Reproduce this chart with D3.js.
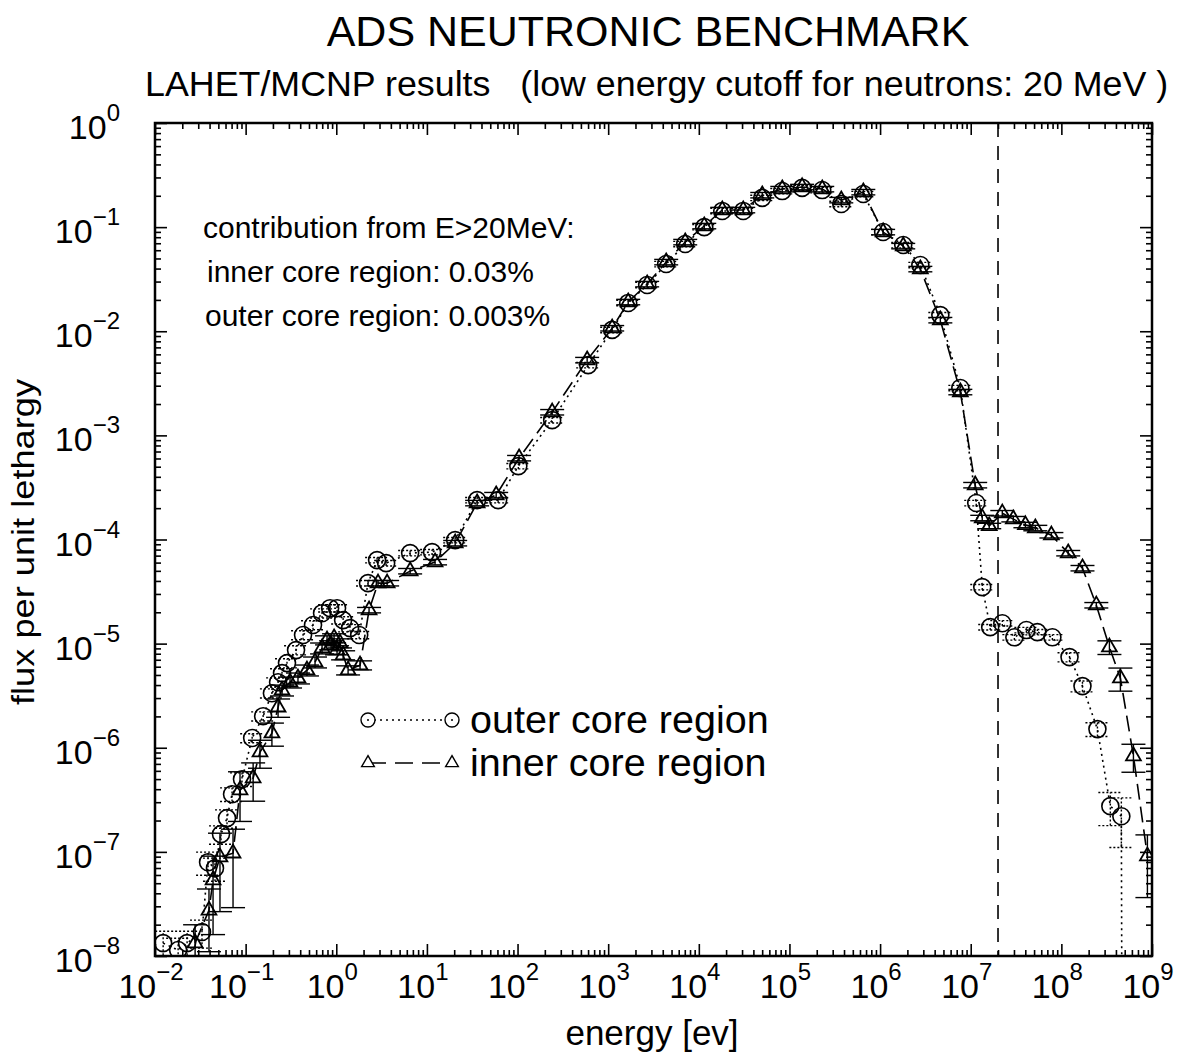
<!DOCTYPE html>
<html>
<head>
<meta charset="utf-8">
<script src="https://cdn.jsdelivr.net/npm/d3@7"></script>
<style>
  body { margin: 0; background: #fff; }
  svg text { font-family: "Liberation Sans", Arial, Helvetica, sans-serif; fill: #000; }
</style>
</head>
<body>
<svg id="chart" width="1179" height="1057"></svg>
<script>
// outer core region (circles, dotted)
const outerEnergy = [0.0123, 0.018, 0.0226, 0.033, 0.0385, 0.0459, 0.0535, 0.0623, 0.0708, 0.0912,
  0.118, 0.156, 0.195, 0.228, 0.252, 0.286, 0.36, 0.43, 0.554, 0.697,
  0.855, 1.02, 1.19, 1.42, 1.79, 2.24, 2.82, 3.55, 6.53, 11.4,
  20.5, 35.8, 61.1, 102, 241, 601, 1107, 1663, 2692, 4365,
  7079, 11480, 18140, 30900, 50100, 83300, 1.38e5, 2.30e5, 3.73e5, 6.53e5,
  1.08e6, 1.80e6, 2.78e6, 4.62e6, 7.68e6, 1.15e7, 1.34e7, 1.64e7, 2.23e7, 3.03e7,
  4.11e7, 5.43e7, 7.96e7, 1.23e8, 1.71e8, 2.50e8, 3.47e8, 4.59e8, 4.7e8];
const outerFlux = [1.33e-8, 1.14e-8, 1.33e-8, 1.70e-8, 7.96e-8, 6.97e-8, 1.48e-7, 2.11e-7, 3.58e-7, 4.99e-7,
  1.24e-6, 2.01e-6, 3.34e-6, 4.26e-6, 5.21e-6, 6.50e-6, 8.67e-6, 1.21e-5, 1.51e-5, 1.96e-5,
  2.19e-5, 2.19e-5, 1.68e-5, 1.41e-5, 1.21e-5, 3.81e-5, 6.34e-5, 5.93e-5, 7.40e-5, 7.57e-5,
  9.87e-5, 2.39e-4, 2.39e-4, 5.07e-4, 1.40e-3, 4.73e-3, 1.03e-2, 1.87e-2, 2.78e-2, 4.42e-2,
  6.89e-2, 0.100, 0.143, 0.143, 0.191, 0.222, 0.238, 0.227, 0.167, 0.208,
  0.0897, 0.0673, 0.0433, 0.0143, 2.85e-3, 2.24e-4, 3.49e-5, 1.44e-5, 1.57e-5, 1.15e-5,
  1.35e-5, 1.29e-5, 1.15e-5, 7.42e-6, 3.91e-6, 1.51e-6, 2.75e-7, 2.20e-7, 1e-10];
const outerErr = [0.3, 0.3, 0.3, 0.3, 0.25, 0.25, 0.2, 0.2, 0.15, 0.15,
  0.1, 0.1, 0.1, 0.1, 0.1, 0.1, 0.1, 0.1, 0.1, 0.1,
  0.08, 0.08, 0.08, 0.08, 0.08, 0.06, 0.06, 0.06, 0.06, 0.06,
  0.06, 0.06, 0.06, 0.06, 0.06, 0.06, 0.06, 0.06, 0.06, 0.06,
  0.06, 0.06, 0.06, 0.06, 0.06, 0.06, 0.06, 0.06, 0.06, 0.06,
  0.06, 0.06, 0.06, 0.06, 0.06, 0.06, 0.06, 0.06, 0.06, 0.06,
  0.06, 0.06, 0.06, 0.1, 0.12, 0.15, 0.35, 0.5, 0];

// inner core region (triangles, dashed)
const innerEnergy = [0.0277, 0.0394, 0.0437, 0.0521, 0.0726, 0.0867, 0.121, 0.144, 0.195, 0.228,
  0.252, 0.309, 0.378, 0.475, 0.583, 0.697, 0.791, 0.877, 0.946, 1.02,
  1.10, 1.19, 1.35, 1.83, 2.30, 2.89, 3.64, 6.53, 12.3, 20.5,
  35.8, 58.1, 104, 241, 586, 1107, 1663, 2692, 4365, 7079,
  11480, 18140, 30900, 50100, 83300, 1.38e5, 2.30e5, 3.73e5, 6.53e5, 1.08e6,
  1.80e6, 2.78e6, 4.62e6, 7.68e6, 1.12e7, 1.34e7, 1.60e7, 2.23e7, 2.95e7, 4.01e7,
  5.16e7, 7.76e7, 1.19e8, 1.71e8, 2.43e8, 3.39e8, 4.48e8, 6.24e8, 8.90e8];
const innerFlux = [1.33e-8, 2.75e-8, 5.35e-8, 8.89e-8, 9.71e-8, 3.92e-7, 5.11e-7, 9.08e-7, 1.38e-6, 2.45e-6,
  3.57e-6, 4.26e-6, 4.66e-6, 5.56e-6, 6.64e-6, 9.05e-6, 1.08e-5, 9.68e-6, 1.13e-5, 8.67e-6,
  1.01e-5, 7.76e-6, 5.56e-6, 6.21e-6, 2.10e-5, 3.81e-5, 3.81e-5, 4.97e-5, 6.07e-5, 9.23e-5,
  2.24e-4, 2.67e-4, 6.05e-4, 1.67e-3, 5.29e-3, 1.07e-2, 1.91e-2, 2.84e-2, 4.62e-2, 7.19e-2,
  0.1025, 0.146, 0.146, 0.203, 0.232, 0.243, 0.232, 0.182, 0.217, 0.0897,
  0.0658, 0.0396, 0.0128, 2.61e-3, 3.33e-4, 1.61e-4, 1.35e-4, 1.79e-4, 1.57e-4, 1.38e-4,
  1.29e-4, 1.10e-4, 7.40e-5, 5.31e-5, 2.34e-5, 9.25e-6, 4.66e-6, 8.31e-7, 9.10e-8];
const innerErr = [0.5, 0.6, 0.7, 0.7, 0.7, 0.5, 0.4, 0.3, 0.25, 0.2,
  0.12, 0.12, 0.12, 0.12, 0.12, 0.12, 0.1, 0.1, 0.1, 0.1,
  0.1, 0.1, 0.1, 0.1, 0.06, 0.06, 0.06, 0.06, 0.06, 0.06,
  0.06, 0.06, 0.06, 0.06, 0.06, 0.06, 0.06, 0.06, 0.06, 0.06,
  0.06, 0.06, 0.06, 0.06, 0.06, 0.06, 0.06, 0.06, 0.06, 0.06,
  0.06, 0.06, 0.06, 0.06, 0.06, 0.06, 0.06, 0.06, 0.06, 0.06,
  0.06, 0.06, 0.06, 0.06, 0.06, 0.15, 0.25, 0.3, 0.6];

const xTickExps = [-2, -1, 0, 1, 2, 3, 4, 5, 6, 7, 8, 9];
const yTickExps = [0, -1, -2, -3, -4, -5, -6, -7, -8];
const cutoffEnergy = 2e7;
const notes = ["contribution from E>20MeV:", "inner core region: 0.03%", "outer core region: 0.003%"];
const legendLabels = ["outer core region", "inner core region"];

const svg = d3.select('#chart');
const pLeft = 155, pRight = 1152, pTop = 123, pBottom = 956;

const x = d3.scaleLog().domain([1e-2, 1e9]).range([pLeft, pRight]);
const y = d3.scaleLog().domain([1e-8, 1]).range([pBottom, pTop]);

const majorX = xTickExps.map(e => Math.pow(10, e));
const minorX = [];
xTickExps.slice(0, -1).forEach(e => { for (let k = 2; k < 10; k++) minorX.push(k * Math.pow(10, e)); });
const majorY = yTickExps.map(e => Math.pow(10, e));
const minorY = [];
yTickExps.slice(1).forEach(e => { for (let k = 2; k < 10; k++) minorY.push(k * Math.pow(10, e)); });

// ticks pointing inward on all four sides
function ticks(axis, vals, size, transform) {
  const g = svg.append('g')
    .attr('transform', transform)
    .call(axis.tickValues(vals).tickSize(-size).tickFormat(''));
  g.select('.domain').remove();
  g.selectAll('line').attr('stroke', '#000').attr('stroke-width', 1.6);
}
ticks(d3.axisBottom(x), majorX, 12, `translate(0,${pBottom})`);
ticks(d3.axisBottom(x), minorX, 6, `translate(0,${pBottom})`);
ticks(d3.axisTop(x), majorX, 12, `translate(0,${pTop})`);
ticks(d3.axisTop(x), minorX, 6, `translate(0,${pTop})`);
ticks(d3.axisLeft(y), majorY, 12, `translate(${pLeft},0)`);
ticks(d3.axisLeft(y), minorY, 6, `translate(${pLeft},0)`);
ticks(d3.axisRight(y), majorY, 12, `translate(${pRight},0)`);
ticks(d3.axisRight(y), minorY, 6, `translate(${pRight},0)`);

svg.append('rect')
  .attr('x', pLeft).attr('y', pTop)
  .attr('width', pRight - pLeft).attr('height', pBottom - pTop)
  .attr('fill', 'none').attr('stroke', '#000').attr('stroke-width', 2.5);

// tick labels 10^n
function powLabel(sel, e) {
  sel.append('tspan').text('10');
  sel.append('tspan').attr('dy', -18).attr('font-size', 24).text(e < 0 ? '\u2212' + (-e) : String(e));
}
xTickExps.forEach(e => {
  svg.append('text')
    .attr('x', x(Math.pow(10, e)) - 4).attr('y', 998)
    .attr('text-anchor', 'middle').attr('font-size', 34)
    .call(powLabel, e);
});
yTickExps.forEach(e => {
  svg.append('text')
    .attr('x', 120).attr('y', y(Math.pow(10, e)) + 16)
    .attr('text-anchor', 'end').attr('font-size', 34)
    .call(powLabel, e);
});

// titles
svg.append('text').attr('x', 648).attr('y', 46).attr('text-anchor', 'middle')
  .attr('font-size', 43).text('ADS NEUTRONIC BENCHMARK');
svg.append('text').attr('x', 145).attr('y', 96).attr('font-size', 35.8)
  .attr('xml:space', 'preserve')
  .text('LAHET/MCNP results   (low energy cutoff for neutrons: 20 MeV )');
svg.append('text').attr('x', 652).attr('y', 1045).attr('text-anchor', 'middle')
  .attr('font-size', 35).text('energy [ev]');
svg.append('text').attr('transform', 'translate(34,542) rotate(-90)')
  .attr('text-anchor', 'middle').attr('font-size', 31)
  .attr('textLength', 326).attr('lengthAdjust', 'spacingAndGlyphs')
  .text('flux per unit lethargy');

svg.selectAll('.note').data(notes).join('text')
  .attr('class', 'note')
  .attr('x', (d, i) => [203, 207, 205][i])
  .attr('y', (d, i) => 238 + i * 44)
  .attr('font-size', 30)
  .text(d => d);

// plot content
svg.append('clipPath').attr('id', 'clip').append('rect')
  .attr('x', pLeft).attr('y', pTop).attr('width', pRight - pLeft).attr('height', pBottom - pTop);
const plot = svg.append('g').attr('clip-path', 'url(#clip)');

plot.append('line')
  .attr('x1', x(cutoffEnergy)).attr('x2', x(cutoffEnergy))
  .attr('y1', pTop).attr('y2', pBottom)
  .attr('stroke', '#000').attr('stroke-width', 1.6).attr('stroke-dasharray', '14,9');

const outer = outerEnergy.map((e, i) => ({ e, f: outerFlux[i], err: outerErr[i] }));
const inner = innerEnergy.map((e, i) => ({ e, f: innerFlux[i], err: innerErr[i] }));

const line = d3.line().x(d => x(d.e)).y(d => y(d.f));

function errorBars(data, dash) {
  const g = plot.append('g')
    .attr('stroke', '#000').attr('stroke-width', 1.4)
    .attr('stroke-dasharray', dash);
  data.filter(d => d.err > 0).forEach(d => {
    const cx = x(d.e);
    const lo = y(Math.max(d.f * (1 - d.err), 1e-12));
    const hi = y(d.f * (1 + d.err));
    g.append('line').attr('x1', cx).attr('x2', cx).attr('y1', lo).attr('y2', hi);
    g.append('line').attr('x1', cx - 12).attr('x2', cx + 12).attr('y1', lo).attr('y2', lo);
    g.append('line').attr('x1', cx - 12).attr('x2', cx + 12).attr('y1', hi).attr('y2', hi);
  });
}
errorBars(outer, '2,2');
errorBars(inner, null);

plot.append('path').datum(outer)
  .attr('d', line).attr('fill', 'none')
  .attr('stroke', '#000').attr('stroke-width', 1.6).attr('stroke-dasharray', '2,4');
plot.append('path').datum(inner)
  .attr('d', line).attr('fill', 'none')
  .attr('stroke', '#000').attr('stroke-width', 1.6).attr('stroke-dasharray', '16,7');

plot.append('g').selectAll('circle').data(outer).join('circle')
  .attr('cx', d => x(d.e)).attr('cy', d => y(d.f)).attr('r', 8.5)
  .attr('fill', 'none').attr('stroke', '#000').attr('stroke-width', 1.6);

const tri = d3.symbol(d3.symbolTriangle).size(95);
plot.append('g').selectAll('path').data(inner).join('path')
  .attr('d', tri)
  .attr('transform', d => `translate(${x(d.e)},${y(d.f)})`)
  .attr('fill', 'none').attr('stroke', '#000').attr('stroke-width', 1.8);

// legend
const legend = svg.append('g');
const ly = [720, 763];
legend.append('line').attr('x1', 368).attr('x2', 452).attr('y1', ly[0]).attr('y2', ly[0])
  .attr('stroke', '#000').attr('stroke-width', 1.4).attr('stroke-dasharray', '2,4');
legend.append('line').attr('x1', 368).attr('x2', 452).attr('y1', ly[1]).attr('y2', ly[1])
  .attr('stroke', '#000').attr('stroke-width', 1.4).attr('stroke-dasharray', '18,9');
[368, 452].forEach(cx => {
  legend.append('circle').attr('cx', cx).attr('cy', ly[0]).attr('r', 7)
    .attr('fill', '#fff').attr('stroke', '#000').attr('stroke-width', 1.4);
  legend.append('circle').attr('cx', cx).attr('cy', ly[0]).attr('r', 1).attr('fill', '#000');
  legend.append('path').attr('d', d3.symbol(d3.symbolTriangle).size(70))
    .attr('transform', `translate(${cx},${ly[1]})`)
    .attr('fill', '#fff').attr('stroke', '#000').attr('stroke-width', 1.4);
});
legend.selectAll('text').data(legendLabels).join('text')
  .attr('x', 470).attr('y', (d, i) => ly[i] + 13)
  .attr('font-size', 39.5).text(d => d);
</script>
</body>
</html>
